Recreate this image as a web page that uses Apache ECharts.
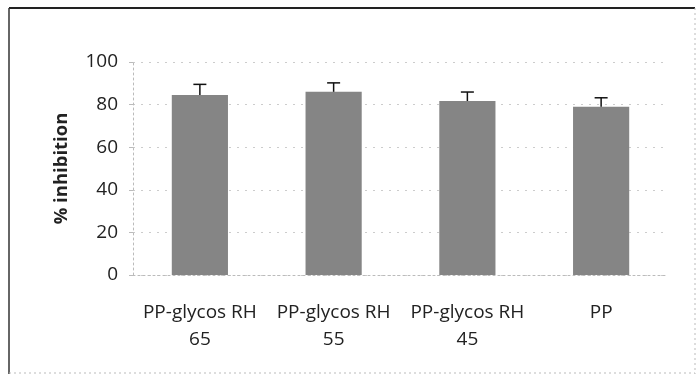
<!DOCTYPE html>
<html><head><meta charset="utf-8">
<script src="https://cdn.jsdelivr.net/npm/echarts@6/dist/echarts.min.js"></script>
<style>html,body{margin:0;padding:0;background:#fff}#c{width:699px;height:379px}</style>
</head><body><div id="c"></div>
<script>
var categories = ['PP-glycos RH\n65', 'PP-glycos RH\n55', 'PP-glycos RH\n45', 'PP'];
var values = [84.5, 86, 81.7, 79];
var errors = [5, 4.2, 4.2, 4.2];
var yTicks = [0, 20, 40, 60, 80, 100];

var chart = echarts.init(document.getElementById('c'));
var font = 'Open Sans';
chart.setOption({
  animation: false,
  backgroundColor: '#fff',
  graphic: [
    {type: 'line', shape: {x1: 9, y1: 8, x2: 695, y2: 8}, style: {stroke: '#222', lineWidth: 2}},
    {type: 'line', shape: {x1: 9, y1: 8, x2: 9, y2: 374}, style: {stroke: '#333', lineWidth: 1.5}},
    {type: 'line', shape: {x1: 695, y1: 8, x2: 695, y2: 374}, style: {stroke: '#bbb', lineWidth: 1, lineDash: [2, 3]}},
    {type: 'line', shape: {x1: 9, y1: 373, x2: 695, y2: 373}, style: {stroke: '#bbb', lineWidth: 1, lineDash: [2, 3]}}
  ],
  grid: {left: 133, right: 31, top: 62, bottom: 104, containLabel: false},
  xAxis: {
    type: 'category', data: categories,
    axisLine: {lineStyle: {color: '#bbb', type: [2, 3]}},
    axisTick: {show: false},
    axisLabel: {interval: 0, hideOverlap: false, color: '#222', fontSize: 19, fontFamily: font, margin: 24, lineHeight: 27}
  },
  yAxis: {
    type: 'value', min: 0, max: 100, interval: 20,
    name: '% inhibition', nameLocation: 'middle', nameGap: 62,
    nameTextStyle: {color: '#222', fontSize: 18.5, fontWeight: 'bold', fontFamily: font},
    axisLine: {show: true, lineStyle: {color: '#bbb', type: [2, 3]}},
    axisTick: {show: true, length: 4, lineStyle: {color: '#bbb'}},
    splitLine: {lineStyle: {color: '#ccc', type: [2, 6]}},
    axisLabel: {color: '#222', fontSize: 19, fontFamily: font, margin: 15,
      formatter: function (v) { return yTicks.indexOf(v) >= 0 ? String(v) : ''; }}
  },
  series: [
    {type: 'bar', data: values, barWidth: '42%', itemStyle: {color: '#858585'}},
    {type: 'custom', data: values.map(function (v, i) { return [i, v, v + errors[i]]; }),
      renderItem: function (params, api) {
        var p0 = api.coord([api.value(0), api.value(1)]);
        var p1 = api.coord([api.value(0), api.value(2)]);
        var w = 6.5;
        return {type: 'group', children: [
          {type: 'line', shape: {x1: p0[0], y1: p0[1], x2: p1[0], y2: p1[1]}, style: {stroke: '#111', lineWidth: 1.5}},
          {type: 'line', shape: {x1: p1[0] - w, y1: p1[1], x2: p1[0] + w, y2: p1[1]}, style: {stroke: '#111', lineWidth: 1.5}}
        ]};
      }, z: 5}
  ]
});
</script></body></html>
